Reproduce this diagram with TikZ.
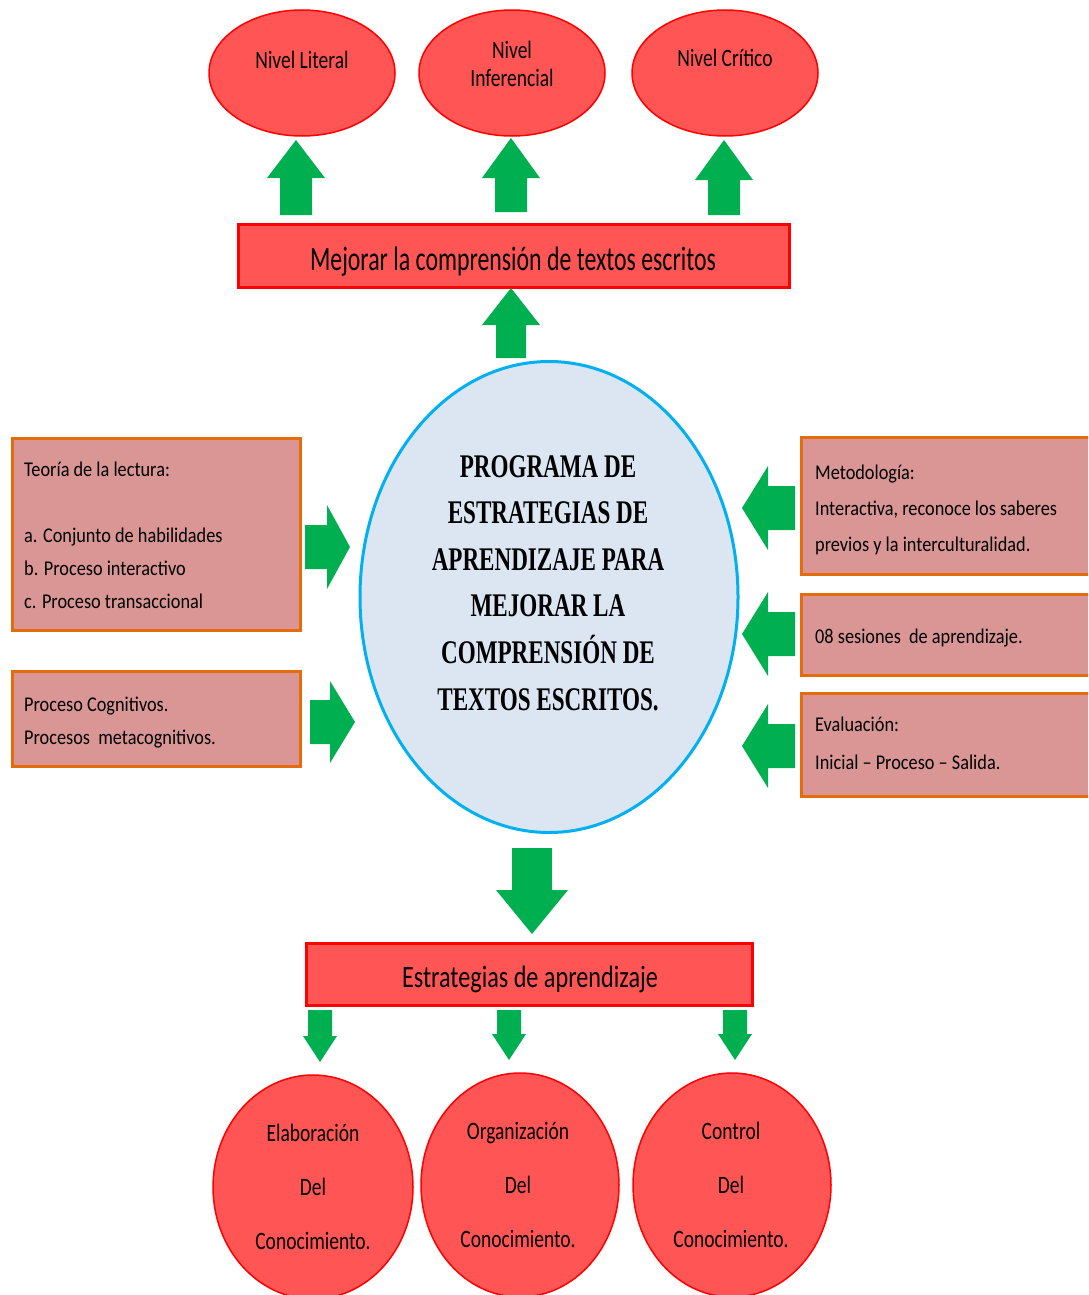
\documentclass[tikz,border=0pt]{standalone}
\usepackage{fontspec}
\setmainfont{Carlito}
\newfontfamily\calf[FakeStretch=0.78]{Carlito}
\newfontfamily\calm[FakeStretch=0.70]{Carlito}
\newfontfamily\calb[FakeStretch=0.87]{Carlito}
\newfontfamily\tnrf[FakeStretch=0.7]{Liberation Serif}
\usetikzlibrary{shapes.geometric}
\definecolor{redfill}{RGB}{255,85,85}
\definecolor{redline}{RGB}{255,0,0}
\definecolor{pinkfill}{RGB}{217,150,148}
\definecolor{orangeline}{RGB}{228,108,10}
\definecolor{grn}{RGB}{0,176,80}
\definecolor{bluefill}{RGB}{220,230,242}
\definecolor{blueline}{RGB}{0,176,240}
\newcommand{\uparr}[6]{\fill[grn] ({#1-#5},#4) -- ({#1-#5},#3) -- ({#1-#6},#3) -- (#1,#2) -- ({#1+#6},#3) -- ({#1+#5},#3) -- ({#1+#5},#4) -- cycle;}
\newcommand{\dnarr}[6]{\fill[grn] ({#1-#5},#4) -- ({#1-#5},#3) -- ({#1-#6},#3) -- (#1,#2) -- ({#1+#6},#3) -- ({#1+#5},#3) -- ({#1+#5},#4) -- cycle;}
\newcommand{\hzarr}[6]{\fill[grn] (#4,{#1-#5}) -- (#3,{#1-#5}) -- (#3,{#1-#6}) -- (#2,#1) -- (#3,{#1+#6}) -- (#3,{#1+#5}) -- (#4,{#1+#5}) -- cycle;}
\newcommand{\toprule}{\rule{0pt}{16pt}}
\tikzset{
  redell/.style={ellipse, draw=redline, fill=redfill, line width=1.5pt, inner sep=0pt},
  redbox/.style={rectangle, draw=redline, fill=redfill, line width=3pt, inner sep=0pt},
  pinkbox/.style={rectangle, draw=orangeline, fill=pinkfill, line width=3pt},
  lbl/.style={inner sep=0pt, text=black, font=\calf},
  boxtxt/.style={inner sep=0pt, text=black, anchor=north west, align=left},
}
\begin{document}
\begin{tikzpicture}[x=1pt,y=-1pt]
\clip (0,0) rectangle (1088,1295);
% top ellipses
\node[redell, minimum width=186, minimum height=126] (lit) at (302,73) {};
\node[redell, minimum width=186, minimum height=126] (inf) at (512,73) {};
\node[redell, minimum width=186, minimum height=126] (cri) at (725,73) {};
\node[lbl, font=\calf\fontsize{25}{28}\selectfont] (litt) at (302,60) {Nivel Literal};
\node[lbl, font=\calf\fontsize{25}{28}\selectfont, align=center] (inft) at (512,64) {Nivel\\Inferencial};
\node[lbl, font=\calf\fontsize{25}{28}\selectfont] (crit) at (725,58) {Nivel Crítico};
% up arrows
\uparr{296}{140}{178}{215}{16}{29}
\uparr{511}{138}{178}{212}{16}{29}
\uparr{724}{140}{180}{215}{16}{29}
% Mejorar box
\node[redbox, minimum width=551, minimum height=63] (mej) at (513.5,255.5) {};
\node[lbl, font=\calm\fontsize{34}{40}\selectfont] (mejt) at (513,262) {Mejorar la comprensión de textos escritos};
\uparr{511}{288}{325}{358}{15}{29}
% center
\node[ellipse, draw=blueline, fill=bluefill, line width=3pt, minimum width=378, minimum height=471] (prog) at (549,597) {};
\node[inner sep=0pt, align=center, font=\tnrf\bfseries\fontsize{33}{46.6}\selectfont] (progt) at (548,583) {PROGRAMA DE\\ESTRATEGIAS DE\\APRENDIZAJE PARA\\MEJORAR LA\\COMPRENSIÓN DE\\TEXTOS ESCRITOS.};
% left boxes
\node[pinkbox, minimum width=288, minimum height=192] (teo) at (156,534) {};
\node[boxtxt, font=\calb\fontsize{21}{33}\selectfont] (teot) at (24,460) {\toprule Teoría de la lectura:\\[33pt]a. Conjunto de habilidades\\b. Proceso interactivo\\c. Proceso transaccional};
\node[pinkbox, minimum width=288, minimum height=95] (cog) at (156,718.5) {};
\node[boxtxt, font=\calb\fontsize{21}{33}\selectfont] (cogt) at (24,695) {\toprule Proceso Cognitivos.\\Procesos\ \ metacognitivos.};
\hzarr{547}{350}{327}{305}{22}{42}
\hzarr{722}{355}{330}{310}{22}{41}
% right boxes
\node[pinkbox, minimum width=296, minimum height=137] (met) at (949,505.5) {};
\node[boxtxt, font=\calb\fontsize{21}{36}\selectfont] (mett) at (815,463) {\toprule Metodología:\\Interactiva, reconoce los saberes\\previos y la interculturalidad.};
\node[pinkbox, minimum width=296, minimum height=81] (ses) at (949,634.5) {};
\node[inner sep=0pt, anchor=base west, font=\calb\fontsize{21}{36}\selectfont] (sest) at (815,643) {08 sesiones\ \ de aprendizaje.};
\node[pinkbox, minimum width=296, minimum height=103] (eva) at (949,744.5) {};
\node[boxtxt, font=\calb\fontsize{21}{38}\selectfont] (evat) at (815,715) {\toprule Evaluación:\\Inicial – Proceso – Salida.};
\hzarr{508}{742}{768}{795}{22}{42}
\hzarr{634}{742}{768}{795}{22}{42}
\hzarr{746}{742}{768}{795}{22}{42}
% down arrow
\dnarr{532}{934}{890}{848}{20}{36}
% Estrategias box
\node[redbox, minimum width=446, minimum height=62] (est) at (529,974) {};
\node[lbl, font=\calf\fontsize{31}{36}\selectfont] (estt) at (530,979) {Estrategias de aprendizaje};
\dnarr{320}{1062}{1036}{1010}{12}{17}
\dnarr{509}{1060}{1034}{1010}{12}{17}
\dnarr{735}{1060}{1034}{1010}{12}{17}
% bottom circles
\node[redell, minimum width=200, minimum height=224] (ela) at (313,1187) {};
\node[redell, minimum width=198, minimum height=224] (org) at (520,1185) {};
\node[redell, minimum width=198, minimum height=224] (con) at (732,1185) {};
\node[lbl, align=center, font=\calf\fontsize{25}{54}\selectfont] (elat) at (313,1187) {Elaboración\\Del\\Conocimiento.};
\node[lbl, align=center, font=\calf\fontsize{25}{54}\selectfont] (orgt) at (518,1185) {Organización\\Del\\Conocimiento.};
\node[lbl, align=center, font=\calf\fontsize{25}{54}\selectfont] (cont) at (731,1185) {Control\\Del\\Conocimiento.};
\end{tikzpicture}
\end{document}
